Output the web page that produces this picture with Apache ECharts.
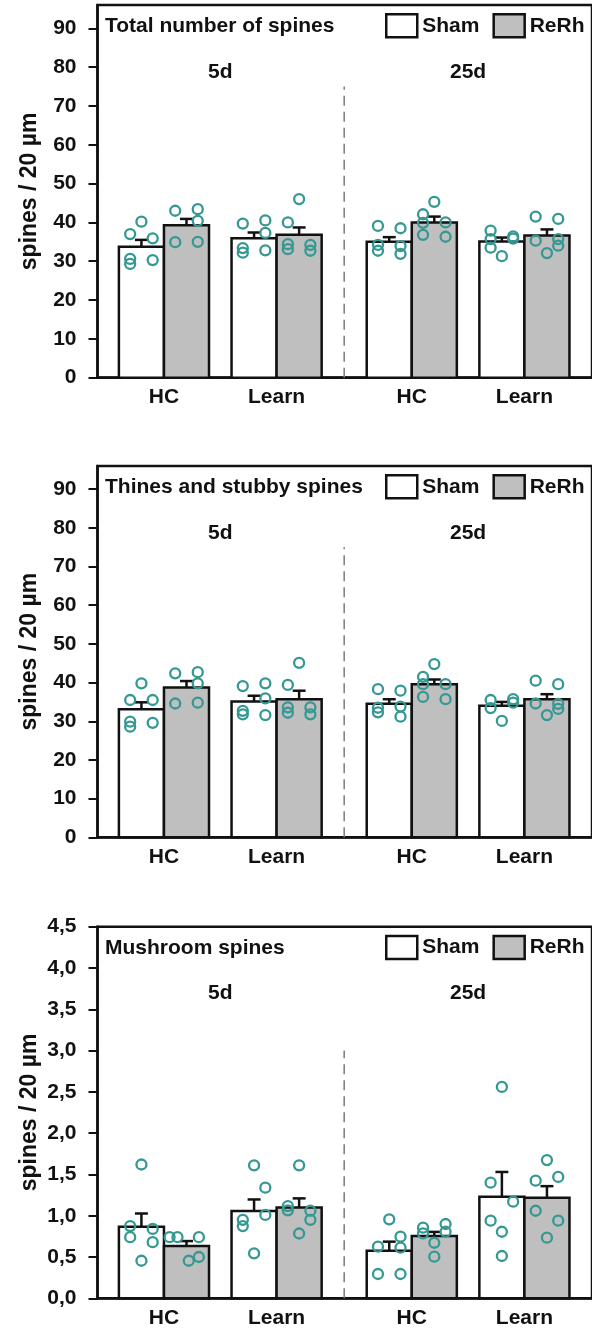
<!DOCTYPE html>
<html>
<head>
<meta charset="utf-8">
<script src="https://cdn.jsdelivr.net/npm/echarts@6/dist/echarts.min.js"></script>
<style>
  html, body { margin: 0; padding: 0; background: #fff; }
  #chart { width: 592px; height: 1330px; }
</style>
</head>
<body>
<div id="chart"></div>
<script>
// ---- categories and axis ticks ----
const groups = ['HC', 'Learn', 'HC', 'Learn'];
const groupPos = [1, 2, 3.2, 4.2];
const periods = ['5d', '25d'];
const periodPos = [1.5, 3.7];
const periodSplit = 2.6;
const dividerTop = [75, 75, 3.0];
const panelTitles = ['Total number of spines', 'Thines and stubby spines', 'Mushroom spines'];
const countTicks = [0, 10, 20, 30, 40, 50, 60, 70, 80, 90];
const mushroomTicks = [0, 0.5, 1, 1.5, 2, 2.5, 3, 3.5, 4, 4.5];

// ---- total number of spines ----
const totalSham = [33.7, 35.9, 35.0, 35.1];
const totalShamSem = [1.8, 1.5, 1.2, 1.0];
const totalReRh = [39.3, 36.8, 40.0, 36.6];
const totalReRhSem = [1.6, 1.9, 1.5, 1.6];
// individual animals: [horizontal jitter, value]
const totalShamPts = [
  [[0, 40.2], [-0.1, 37.0], [0.1, 35.9], [-0.1, 30.6], [-0.1, 29.3], [0.1, 30.3]],
  [[-0.1, 39.7], [0.1, 40.5], [0.1, 37.3], [-0.1, 33.4], [-0.1, 32.2], [0.1, 32.8]],
  [[-0.1, 39.1], [0.1, 38.5], [-0.1, 34.2], [-0.1, 32.7], [0.1, 33.9], [0.1, 31.9]],
  [[-0.1, 37.9], [-0.1, 35.7], [-0.1, 33.5], [0, 31.3], [0.1, 36.4], [0.1, 35.8]]
];
const totalReRhPts = [
  [[-0.1, 43.0], [0.1, 43.4], [0.1, 40.4], [-0.1, 34.9], [0.1, 35.0]],
  [[-0.1, 40.0], [0, 46.0], [-0.1, 34.4], [-0.1, 33.1], [0.1, 34.2], [0.1, 32.7]],
  [[0, 45.3], [-0.1, 42.1], [-0.1, 39.9], [0.1, 40.0], [-0.1, 36.8], [0.1, 36.3]],
  [[-0.1, 41.5], [-0.1, 35.3], [0, 32.1], [0.1, 40.9], [0.1, 35.7], [0.1, 34.0]]
];

// ---- thin and stubby spines ----
const thinSham = [33.1, 35.1, 34.5, 34.0];
const thinShamSem = [1.8, 1.5, 1.2, 1.0];
const thinReRh = [38.7, 35.7, 39.6, 35.7];
const thinReRhSem = [1.7, 2.2, 1.2, 1.3];
const thinShamPts = [
  [[0, 39.8], [-0.1, 35.5], [0.1, 35.5], [-0.1, 29.9], [-0.1, 28.6], [0.1, 29.6]],
  [[-0.1, 39.1], [0.1, 39.8], [0.1, 35.9], [-0.1, 32.7], [-0.1, 31.8], [0.1, 31.6]],
  [[-0.1, 38.3], [0.1, 37.9], [-0.1, 33.5], [-0.1, 32.3], [0.1, 33.8], [0.1, 31.2]],
  [[-0.1, 35.5], [-0.1, 33.4], [0, 30.1], [0.1, 35.7], [0.1, 34.8]]
];
const thinReRhPts = [
  [[-0.1, 42.4], [0.1, 42.7], [0.1, 39.8], [-0.1, 34.6], [0.1, 34.8]],
  [[-0.1, 39.4], [0, 45.1], [-0.1, 33.6], [-0.1, 32.2], [0.1, 33.6], [0.1, 31.8]],
  [[0, 44.8], [-0.1, 41.5], [-0.1, 39.6], [0.1, 39.6], [-0.1, 36.3], [0.1, 35.7]],
  [[-0.1, 40.5], [-0.1, 34.6], [0, 31.6], [0.1, 39.6], [0.1, 34.5], [0.1, 33.2]]
];

// ---- mushroom spines ----
const mushSham = [0.867, 1.057, 0.576, 1.23];
const mushShamSem = [0.16, 0.14, 0.11, 0.30];
const mushReRh = [0.633, 1.10, 0.754, 1.218];
const mushReRhSem = [0.06, 0.11, 0.05, 0.14];
const mushShamPts = [
  [[0, 1.62], [-0.1, 0.875], [0.1, 0.84], [-0.1, 0.74], [0.1, 0.68], [0, 0.455]],
  [[0, 1.61], [0.1, 1.34], [0.1, 1.01], [-0.1, 0.95], [-0.1, 0.875], [0, 0.545]],
  [[0, 0.956], [0.1, 0.746], [-0.1, 0.625], [0.1, 0.613], [-0.1, 0.294], [0.1, 0.294]],
  [[0, 2.56], [-0.1, 1.40], [0.1, 1.17], [-0.1, 0.94], [0, 0.806], [0, 0.512]]
];
const mushReRhPts = [
  [[-0.15, 0.74], [-0.08, 0.74], [0.11, 0.74], [0.02, 0.455], [0.11, 0.50]],
  [[0, 1.61], [-0.1, 1.117], [-0.1, 1.065], [0.1, 1.06], [0.1, 0.95], [0, 0.785]],
  [[-0.1, 0.855], [-0.1, 0.787], [0.1, 0.90], [0.1, 0.806], [0, 0.673], [0, 0.504]],
  [[0, 1.674], [-0.1, 1.424], [0.1, 1.47], [-0.1, 1.06], [0.1, 0.94], [0, 0.734]]
];

// ---- styling ----
const FONT = "'Liberation Sans', Arial, Helvetica, sans-serif";
const INK = '#111';
const GREY_FILL = '#bfbfbf';
const DOT = '#359892';
const BAR_W = 0.4;      // bar width in axis units
const CAP_W = 0.115;    // error-bar cap width in axis units

const panels = [
  { title: panelTitles[0], top: 5, height: 372.7, max: 96, ticks: countTicks,
    sham: totalSham, shamSem: totalShamSem, rerh: totalReRh, rerhSem: totalReRhSem,
    shamPts: totalShamPts, rerhPts: totalReRhPts, fmt: v => String(v) },
  { title: panelTitles[1], top: 466, height: 371.3, max: 96, ticks: countTicks,
    sham: thinSham, shamSem: thinShamSem, rerh: thinReRh, rerhSem: thinReRhSem,
    shamPts: thinShamPts, rerhPts: thinReRhPts, fmt: v => String(v) },
  { title: panelTitles[2], top: 926.7, height: 371.6, max: 4.5, ticks: mushroomTicks,
    sham: mushSham, shamSem: mushShamSem, rerh: mushReRh, rerhSem: mushReRhSem,
    shamPts: mushShamPts, rerhPts: mushReRhPts, fmt: v => v.toFixed(1).replace('.', ',') }
];

function barRenderer(offset, fill) {
  return function (params, api) {
    const x = api.value(0) + offset;
    const v = api.value(1);
    const sem = api.value(2);
    const base = api.coord([x, 0]);
    const top = api.coord([x, v]);
    const cap = api.coord([x, v + sem]);
    const w = api.size([BAR_W, 0])[0];
    const cw = api.size([CAP_W, 0])[0];
    const lineStyle = { stroke: INK, lineWidth: 2.5 };
    return {
      type: 'group',
      children: [
        { type: 'line', shape: { x1: top[0], y1: top[1], x2: cap[0], y2: cap[1] }, style: lineStyle },
        { type: 'line', shape: { x1: cap[0] - cw / 2, y1: cap[1], x2: cap[0] + cw / 2, y2: cap[1] }, style: lineStyle },
        { type: 'rect', shape: { x: top[0] - w / 2, y: top[1], width: w, height: base[1] - top[1] },
          style: { fill: fill, stroke: INK, lineWidth: 2.5 } }
      ]
    };
  };
}

function pointsFor(pts, offset) {
  const out = [];
  pts.forEach((grp, i) => grp.forEach(p => out.push([groupPos[i] + offset + p[0], p[1]])));
  return out;
}

const textBold = { fontFamily: FONT, fontWeight: 'bold', fontSize: 21, color: INK };

const option = {
  animation: false,
  backgroundColor: '#fff',
  title: [], legend: [], grid: [], xAxis: [], yAxis: [], series: []
};

panels.forEach((p, k) => {
  option.title.push({
    text: p.title, left: 105, top: p.top + 11, padding: 0,
    textStyle: Object.assign({}, textBold)
  });
  option.legend.push({
    left: 385, top: p.top + 8, padding: 0, orient: 'horizontal',
    itemWidth: 31, itemHeight: 23, itemGap: 13, selectedMode: false,
    textStyle: Object.assign({}, textBold),
    data: [
      { name: 'Sham', icon: 'rect', itemStyle: { color: '#fff', borderColor: INK, borderWidth: 2.5 } },
      { name: 'ReRh', icon: 'rect', itemStyle: { color: GREY_FILL, borderColor: INK, borderWidth: 2.5 } }
    ]
  });
  option.grid.push({
    left: 97.5, right: -4, top: p.top, height: p.height,
    show: true, borderColor: INK, borderWidth: 2.5, backgroundColor: 'transparent'
  });
  option.xAxis.push({
    type: 'value', gridIndex: k, min: 0.41, max: 4.8,
    splitLine: { show: false },
    axisLine: { show: true, onZero: false, lineStyle: { color: INK, width: 2.5 } },
    axisTick: { show: false },
    axisLabel: {
      customValues: groupPos, margin: 9,
      formatter: v => groups[groupPos.indexOf(v)] || '',
      fontFamily: FONT, fontWeight: 'bold', fontSize: 21, color: INK
    }
  });
  option.yAxis.push({
    type: 'value', gridIndex: k, min: 0, max: p.max,
    interval: p.ticks[1] - p.ticks[0],
    name: 'spines / 20 µm', nameLocation: 'middle', nameGap: 56, nameRotate: 90,
    nameMoveOverlap: false,
    nameTextStyle: { fontFamily: FONT, fontWeight: 'bold', fontSize: 23, color: INK },
    splitLine: { show: false },
    axisLine: { show: true, lineStyle: { color: INK, width: 2.5 } },
    axisTick: { show: true, customValues: p.ticks, length: 9, lineStyle: { color: INK, width: 2 } },
    axisLabel: {
      customValues: p.ticks, margin: 21, formatter: p.fmt,
      fontFamily: FONT, fontWeight: 'bold', fontSize: 21, color: INK
    }
  });

  // dashed separator between the two time points
  option.series.push({
    type: 'line', xAxisIndex: k, yAxisIndex: k, silent: true, symbol: 'none',
    data: [[periodSplit, 0], [periodSplit, dividerTop[k]]],
    lineStyle: { color: '#7a7a7a', width: 1.5, type: [10, 6] }, z: 1
  });

  // time-point labels
  option.series.push({
    type: 'scatter', xAxisIndex: k, yAxisIndex: k, silent: true,
    symbolSize: 1, itemStyle: { color: 'rgba(0,0,0,0)', opacity: 1 },
    data: periods.map((name, i) => ({ name: name, value: [periodPos[i], p.max * 0.82] })),
    label: { show: true, position: 'inside', formatter: '{b}', opacity: 1,
      fontFamily: FONT, fontWeight: 'bold', fontSize: 21, color: INK }
  });

  // bars with SEM
  option.series.push({
    name: 'Sham', type: 'custom', xAxisIndex: k, yAxisIndex: k,
    itemStyle: { color: '#fff', borderColor: INK },
    renderItem: barRenderer(-BAR_W / 2, '#fff'),
    data: groupPos.map((x, i) => [x, p.sham[i], p.shamSem[i]]), z: 2
  });
  option.series.push({
    name: 'ReRh', type: 'custom', xAxisIndex: k, yAxisIndex: k,
    itemStyle: { color: GREY_FILL, borderColor: INK },
    renderItem: barRenderer(BAR_W / 2, GREY_FILL),
    data: groupPos.map((x, i) => [x, p.rerh[i], p.rerhSem[i]]), z: 2
  });

  // individual animals
  const dotStyle = { color: 'rgba(255,255,255,0)', borderColor: DOT, borderWidth: 2.3, opacity: 1 };
  option.series.push({
    name: 'Sham animals', type: 'scatter', xAxisIndex: k, yAxisIndex: k,
    symbol: 'circle', symbolSize: 10, itemStyle: dotStyle, z: 3,
    data: pointsFor(p.shamPts, -BAR_W / 2)
  });
  option.series.push({
    name: 'ReRh animals', type: 'scatter', xAxisIndex: k, yAxisIndex: k,
    symbol: 'circle', symbolSize: 10, itemStyle: dotStyle, z: 3,
    data: pointsFor(p.rerhPts, BAR_W / 2)
  });
});

const chart = echarts.init(document.getElementById('chart'), null, { renderer: 'canvas' });
chart.setOption(option);
</script>
</body>
</html>
